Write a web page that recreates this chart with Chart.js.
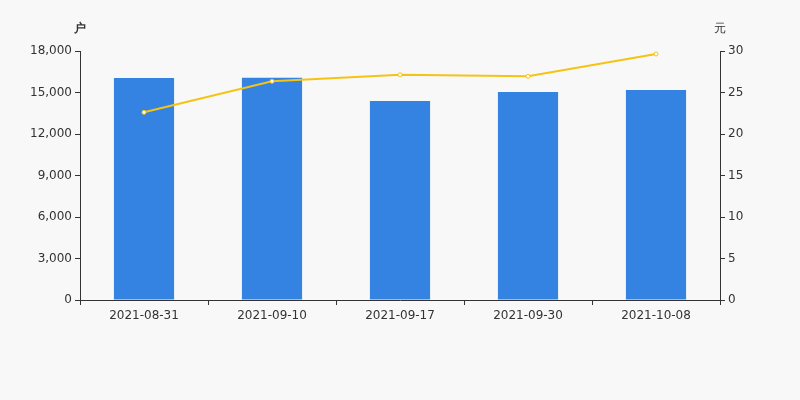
<!DOCTYPE html>
<html>
<head>
<meta charset="utf-8">
<script src="https://cdn.jsdelivr.net/npm/chart.js@4"></script>
<style>
  html, body { margin: 0; padding: 0; background: #f8f8f8; }
  #wrap { width: 800px; height: 400px; }
</style>
</head>
<body>
<div id="wrap"><canvas id="chart" width="800" height="400"></canvas></div>
<script>
// dates, shareholder counts (户) and average price (元)
const dates = ['2021-08-31', '2021-09-10', '2021-09-17', '2021-09-30', '2021-10-08'];
const holders = [16050, 16070, 14390, 15040, 15180];
const prices = [22.61, 26.35, 27.14, 26.95, 29.64];

const axisColor = '#333333';
const textColor = '#333333';
const fontFamily = '"DejaVu Sans", sans-serif';

// unit labels above the two y axes
const unitLabels = {
    id: 'unitLabels',
    afterDraw(chart) {
        const ctx = chart.ctx;
        ctx.save();
        ctx.fillStyle = textColor;
        ctx.textBaseline = 'middle';
        ctx.textAlign = 'center';
        ctx.font = 'bold 12px ' + fontFamily;
        ctx.fillText('户', chart.scales.y.right, 29);
        ctx.font = '12px ' + fontFamily;
        ctx.fillText('元', chart.scales.y1.left, 29);
        ctx.restore();
    }
};

new Chart(document.getElementById('chart'), {
    type: 'bar',
    data: {
        labels: dates,
        datasets: [
            {
                type: 'line',
                data: prices,
                yAxisID: 'y1',
                borderColor: '#f5c314',
                borderWidth: 2,
                pointRadius: 2,
                pointBackgroundColor: '#ffffff',
                pointBorderColor: '#f5c314',
                pointBorderWidth: 1,
                tension: 0,
                order: 0
            },
            {
                data: holders,
                yAxisID: 'y',
                backgroundColor: '#3483e3',
                barPercentage: 0.47,
                categoryPercentage: 1,
                order: 1
            }
        ]
    },
    options: {
        responsive: false,
        animation: false,
        layout: { padding: { top: 51, left: 0, right: 0, bottom: 0 } },
        plugins: {
            legend: { display: false },
            tooltip: { enabled: false }
        },
        scales: {
            x: {
                offset: true,
                grid: {
                    display: true,
                    drawOnChartArea: false,
                    drawTicks: true,
                    tickLength: 5,
                    color: axisColor,
                    offset: true
                },
                border: { display: true, color: axisColor, width: 1 },
                ticks: { color: textColor, font: { size: 12, family: fontFamily }, padding: 4, maxRotation: 0 },
                afterFit(scale) { scale.height = 100; }
            },
            y: {
                position: 'left',
                min: 0,
                max: 18000,
                grid: {
                    display: true,
                    drawOnChartArea: false,
                    drawTicks: true,
                    tickLength: 5,
                    color: axisColor
                },
                border: { display: true, color: axisColor, width: 1 },
                ticks: {
                    stepSize: 3000,
                    color: textColor,
                    padding: 3,
                    font: { size: 12, family: fontFamily },
                    callback: v => v.toLocaleString('en-US')
                },
                afterFit(scale) { scale.width = 80; }
            },
            y1: {
                position: 'right',
                min: 0,
                max: 30,
                grid: {
                    display: true,
                    drawOnChartArea: false,
                    drawTicks: true,
                    tickLength: 5,
                    color: axisColor
                },
                border: { display: true, color: axisColor, width: 1 },
                ticks: {
                    stepSize: 5,
                    color: textColor,
                    padding: 3,
                    font: { size: 12, family: fontFamily }
                },
                afterFit(scale) { scale.width = 80; }
            }
        }
    },
    plugins: [unitLabels]
});
</script>
</body>
</html>
